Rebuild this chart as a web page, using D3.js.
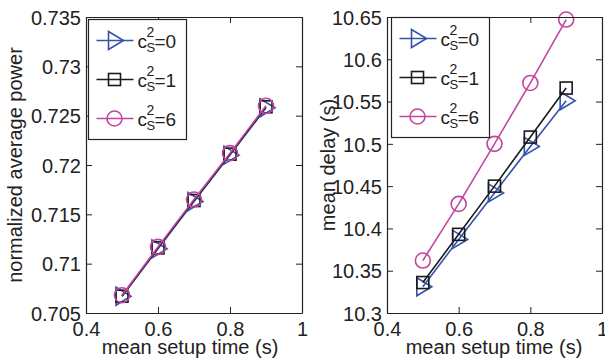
<!DOCTYPE html>
<html>
<head>
<meta charset="utf-8">
<script src="https://cdn.jsdelivr.net/npm/d3@7"></script>
<style>
  body { margin: 0; background: #fff; }
  svg { display: block; font-family: "Liberation Sans", Arial, sans-serif; }
</style>
</head>
<body>
<div class="chart"></div>
<script>
// setup time vs power / delay for three values of c_S^2
var setupTimes = [0.5, 0.6, 0.7, 0.8, 0.9];
var seriesNames = ['0', '1', '6'];
var powerC0 = [0.7067, 0.7115, 0.7163, 0.7210, 0.7258];
var powerC1 = [0.7067, 0.7116, 0.7164, 0.7211, 0.7259];
var powerC6 = [0.7068, 0.7117, 0.7165, 0.7212, 0.7260];
var delayC0 = [10.331, 10.387, 10.442, 10.497, 10.551];
var delayC1 = [10.336, 10.393, 10.450, 10.508, 10.566];
var delayC6 = [10.362, 10.429, 10.500, 10.572, 10.647];
var xTicks = [0.4, 0.6, 0.8, 1];
var powerTicks = [0.705, 0.71, 0.715, 0.72, 0.725, 0.73, 0.735];
var delayTicks = [10.3, 10.35, 10.4, 10.45, 10.5, 10.55, 10.6, 10.65];

var width = 605;
var height = 358;
var colors = ['#3553ab', '#1a1a1a', '#c2459e'];
var markers = ['tri', 'square', 'circle'];
var ink = '#222';

var svg = d3.select('.chart').append('svg')
  .attr('width', width)
  .attr('height', height);

function drawMarker(g, type, x, y, color) {
  if (type === 'tri') {
    g.append('path')
      .attr('d', `M${x - 6},${y - 9}L${x + 9},${y}L${x - 6},${y + 9}Z`)
      .attr('fill', 'none').attr('stroke', color).attr('stroke-width', 1.6);
  } else if (type === 'square') {
    g.append('rect')
      .attr('x', x - 6).attr('y', y - 6).attr('width', 12).attr('height', 12)
      .attr('fill', 'none').attr('stroke', color).attr('stroke-width', 1.6);
  } else {
    g.append('circle')
      .attr('cx', x).attr('cy', y).attr('r', 7.5)
      .attr('fill', 'none').attr('stroke', color).attr('stroke-width', 1.6);
  }
}

function panel(opts) {
  var x = d3.scaleLinear().domain([0.4, 1]).range([opts.left, opts.right]);
  var y = d3.scaleLinear().domain(opts.domain).range([313, 17]);
  var g = svg.append('g');

  // series lines + markers
  opts.series.forEach((vals, i) => {
    var line = d3.line().x((d, j) => x(setupTimes[j])).y(d => y(d));
    g.append('path')
      .datum(vals)
      .attr('d', line)
      .attr('fill', 'none')
      .attr('stroke', colors[i])
      .attr('stroke-width', 1.6);
    vals.forEach((v, j) => drawMarker(g, markers[i], x(setupTimes[j]), y(v), colors[i]));
  });

  // frame with inward ticks
  var bottom = g.append('g').attr('transform', `translate(0,313)`)
    .call(d3.axisBottom(x).tickValues(xTicks).tickFormat(d => String(d))
      .tickSizeInner(-6).tickSizeOuter(0).tickPadding(6));
  var top = g.append('g').attr('transform', `translate(0,17)`)
    .call(d3.axisTop(x).tickValues(xTicks).tickFormat('')
      .tickSizeInner(-6).tickSizeOuter(0));
  var left = g.append('g').attr('transform', `translate(${opts.left},0)`)
    .call(d3.axisLeft(y).tickValues(opts.ticks).tickFormat(d => String(d))
      .tickSizeInner(-6).tickSizeOuter(0).tickPadding(5));
  var right = g.append('g').attr('transform', `translate(${opts.right},0)`)
    .call(d3.axisRight(y).tickValues(opts.ticks).tickFormat('')
      .tickSizeInner(-6).tickSizeOuter(0));

  [bottom, top, left, right].forEach(a => {
    a.select('.domain').attr('stroke', ink).attr('stroke-width', 1.2);
    a.selectAll('.tick line').attr('stroke', ink).attr('stroke-width', 1);
    a.selectAll('text').attr('fill', ink).style('font-size', '20px')
      .attr('font-family', '"Liberation Sans", Arial, sans-serif');
  });
  bottom.selectAll('text').attr('dy', null).attr('y', 23);
  left.selectAll('text').attr('dy', '0.36em');

  // axis labels
  svg.append('text')
    .attr('x', opts.xLabelX).attr('y', 354)
    .attr('text-anchor', 'middle')
    .style('font-size', '20px').attr('fill', ink)
    .text('mean setup time (s)');
  svg.append('text')
    .attr('transform', `translate(${opts.yLabelX},165) rotate(-90)`)
    .attr('text-anchor', 'middle')
    .style('font-size', '20px').attr('fill', ink)
    .text(opts.yLabel);

  // legend
  var lg = svg.append('g').attr('transform', `translate(${opts.legendX},${opts.legendY})`);
  lg.append('rect')
    .attr('width', 98).attr('height', 120)
    .attr('fill', '#fff').attr('stroke', ink).attr('stroke-width', 1.2);
  seriesNames.forEach((name, i) => {
    var ry = 21 + i * 39;
    lg.append('line')
      .attr('x1', 8).attr('x2', 45).attr('y1', ry).attr('y2', ry)
      .attr('stroke', colors[i]).attr('stroke-width', 1.6);
    drawMarker(lg, markers[i], 26, ry, colors[i]);
    var t = lg.append('g').attr('fill', ink);
    t.append('text').attr('x', 49).attr('y', ry + 7).style('font-size', '19px').text('c');
    t.append('text').attr('x', 58).attr('y', ry - 4).style('font-size', '14px').text('2');
    t.append('text').attr('x', 58).attr('y', ry + 11).style('font-size', '13px').text('S');
    t.append('text').attr('x', 66).attr('y', ry + 7).style('font-size', '19px').text('=' + name);
  });
}

panel({
  left: 86, right: 302, domain: [0.705, 0.735], ticks: powerTicks,
  series: [powerC0, powerC1, powerC6],
  xLabelX: 190, yLabelX: 22, yLabel: 'normalized average power',
  legendX: 88.5, legendY: 19.5
});

panel({
  left: 387, right: 602, domain: [10.3, 10.65], ticks: delayTicks,
  series: [delayC0, delayC1, delayC6],
  xLabelX: 494, yLabelX: 335, yLabel: 'mean delay (s)',
  legendX: 391.5, legendY: 17.5
});
</script>
</body>
</html>
